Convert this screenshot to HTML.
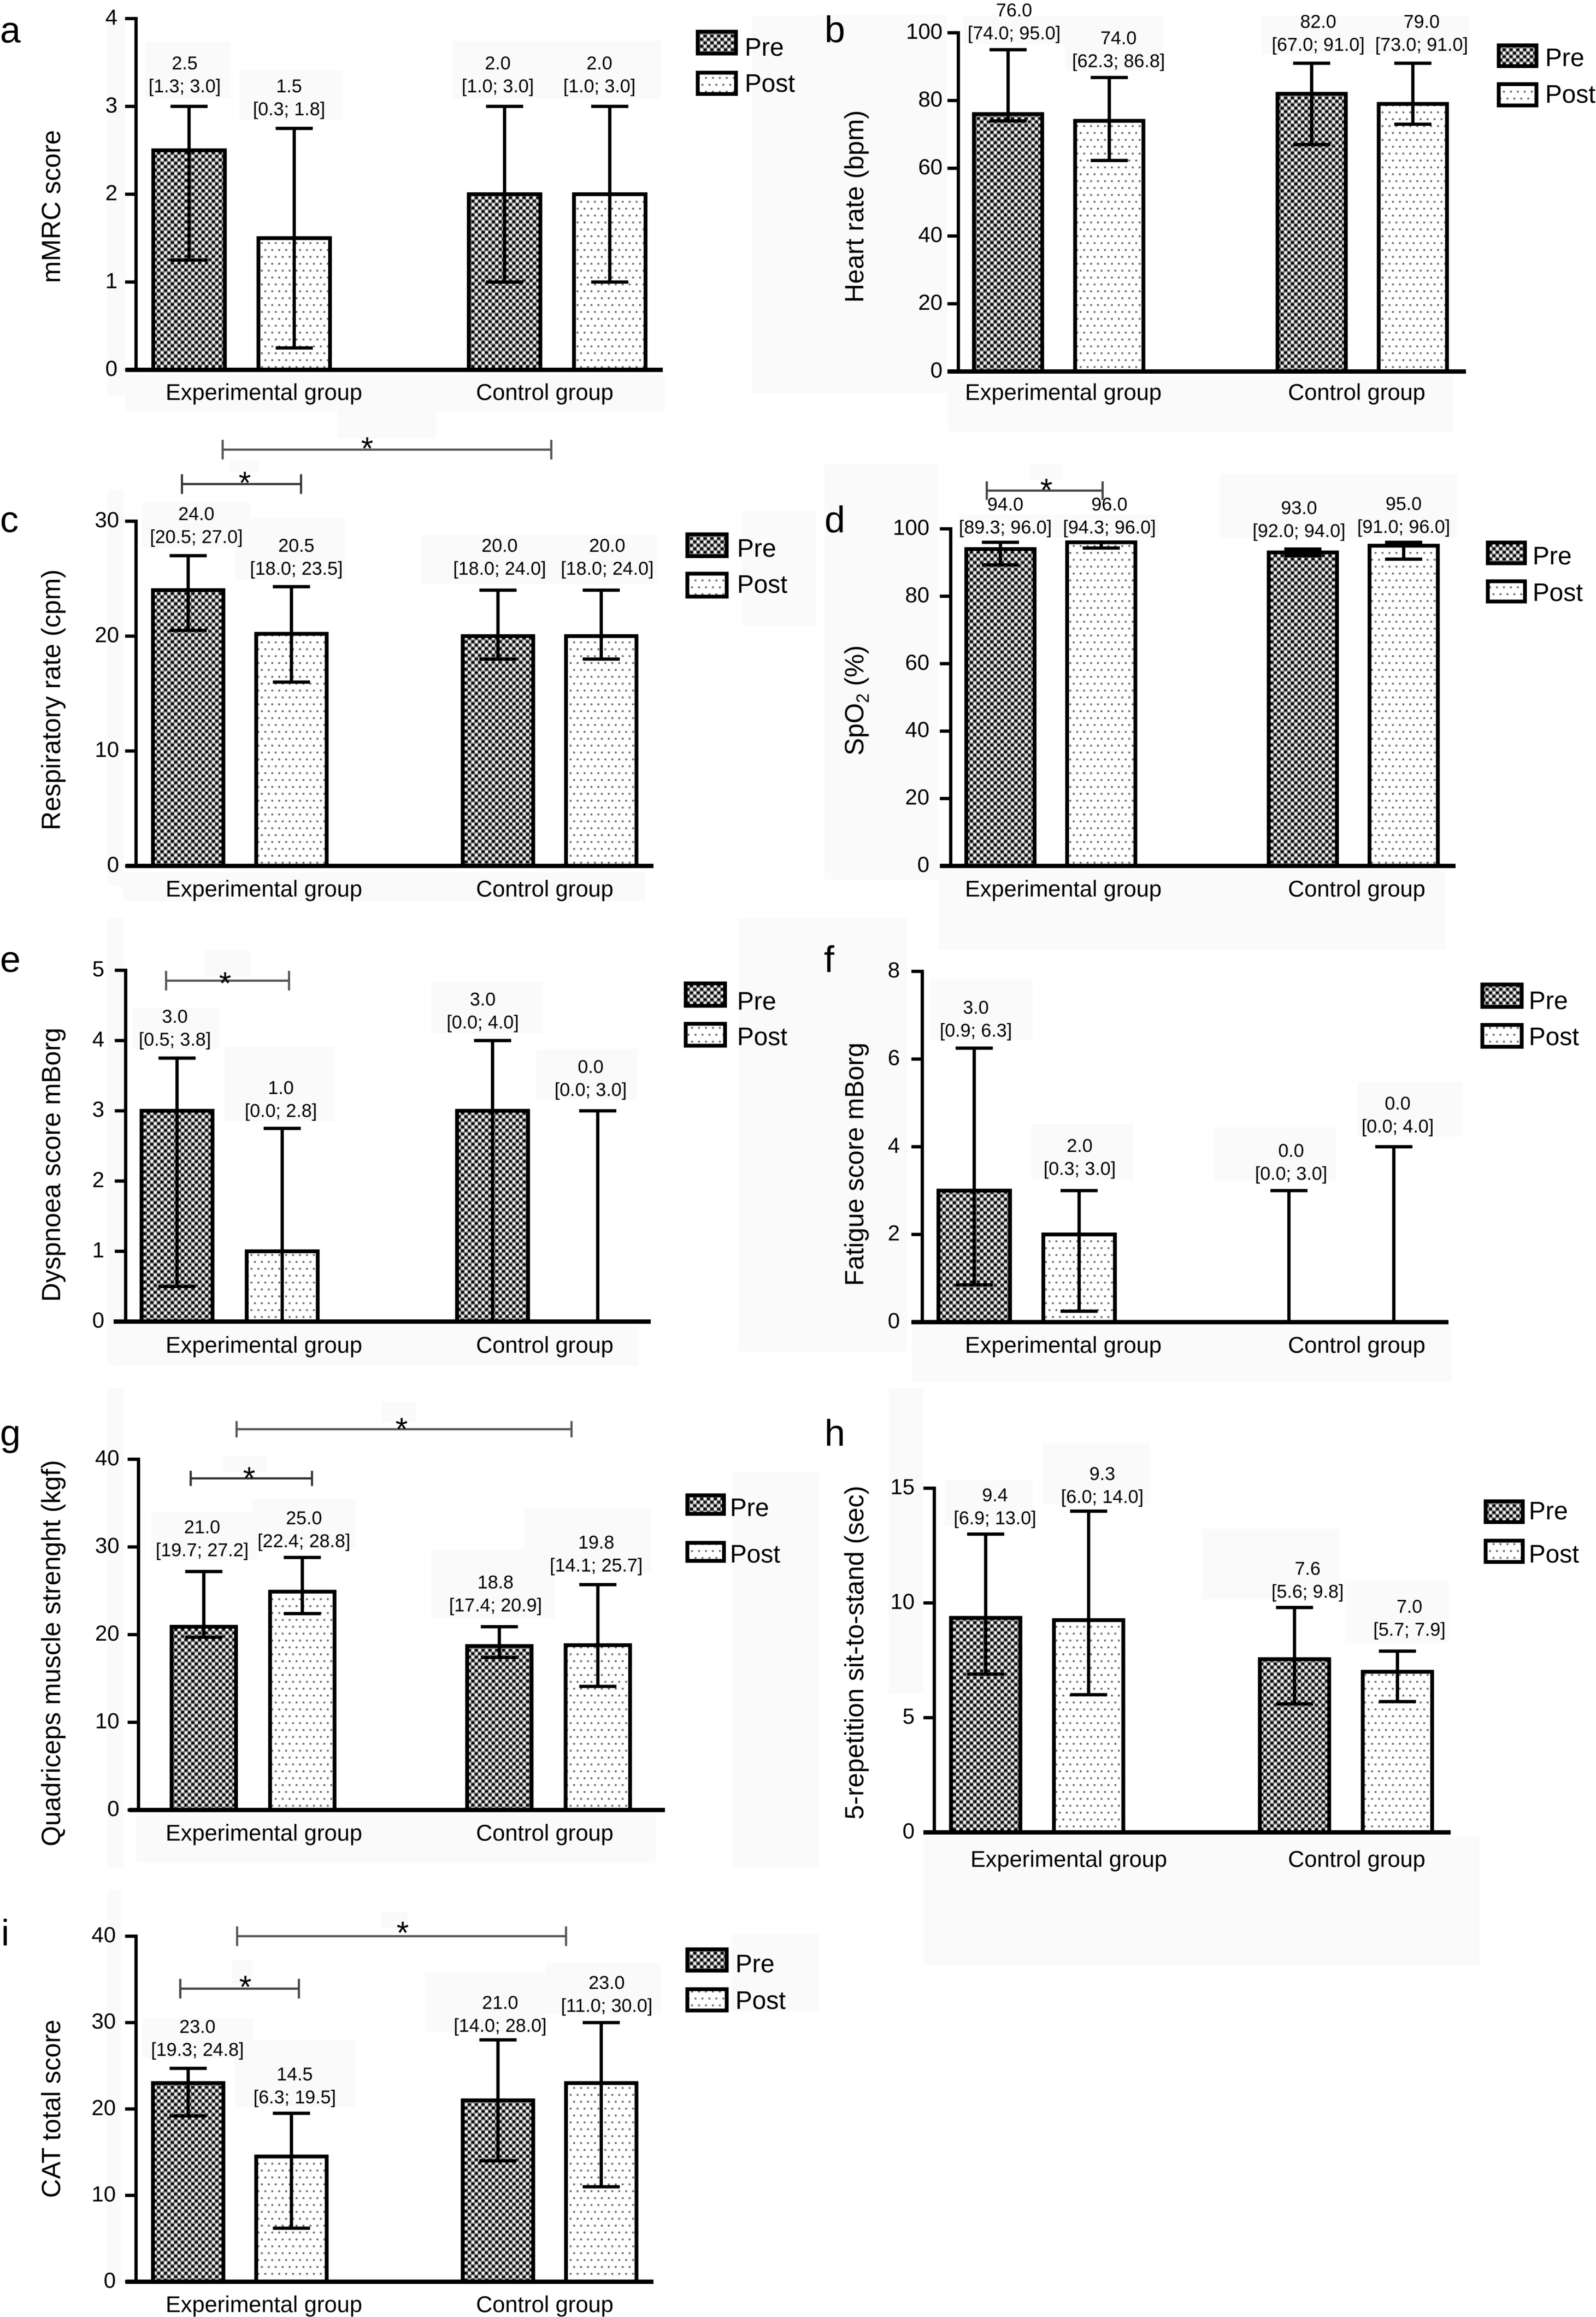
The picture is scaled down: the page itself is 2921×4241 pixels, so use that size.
<!DOCTYPE html>
<html lang="en">
<head>
<meta charset="utf-8">
<title>Pre and post outcomes by group</title>
<style>
html,body{margin:0;padding:0;background:#fff;}
svg{display:block;filter:blur(0.7px);}
text{font-family:"Liberation Sans",sans-serif;fill:#000;}
</style>
</head>
<body>
<svg id="figure" xmlns="http://www.w3.org/2000/svg" width="2921" height="4241" viewBox="0 0 2921 4241">
  <defs>
    <pattern id="pre-fill" patternUnits="userSpaceOnUse" width="12.5" height="12.6">
      <rect width="12.5" height="12.6" fill="#808080"/>
      <rect x="0.2" y="0.8" width="5.4" height="4" fill="#000"/>
      <rect x="6.9" y="0.6" width="4.8" height="4.4" fill="#fff"/>
      <rect x="6.45" y="7.1" width="5.4" height="4" fill="#000"/>
      <rect x="0.6" y="6.9" width="4.8" height="4.4" fill="#fff"/>
    </pattern>
    <pattern id="post-fill" patternUnits="userSpaceOnUse" width="12.7" height="25.2">
      <rect width="12.7" height="25.2" fill="#fff"/>
      <circle cx="3" cy="4" r="1.9" fill="#666"/>
      <circle cx="9.35" cy="16.6" r="1.9" fill="#666"/>
    </pattern>
  </defs>
  <rect width="2921" height="4241" fill="#fff"/>
  <g id="patches"></g>
  <g id="charts"></g>
</svg>
<script>
/* Shared categories */
const groupNames = ['Experimental group', 'Control group'];
const seriesNames = ['Pre', 'Post'];
const barLabels = ['experimental-pre', 'experimental-post', 'control-pre', 'control-post'];

/* a: mMRC */
const aTicks = [0, 1, 2, 3, 4];
const aValues = [2.5, 1.5, 2.0, 2.0];
const aLower = [1.25, 0.25, 1.0, 1.0];
const aUpper = [3.0, 2.75, 3.0, 3.0];
const aMedianText = ['2.5', '1.5', '2.0', '2.0'];
const aRangeText = ['[1.3; 3.0]', '[0.3; 1.8]', '[1.0; 3.0]', '[1.0; 3.0]'];

/* b: heart rate */
const bTicks = [0, 20, 40, 60, 80, 100];
const bValues = [76, 74, 82, 79];
const bLower = [74, 62.3, 67, 73];
const bUpper = [95, 86.8, 91, 91];
const bMedianText = ['76.0', '74.0', '82.0', '79.0'];
const bRangeText = ['[74.0; 95.0]', '[62.3; 86.8]', '[67.0; 91.0]', '[73.0; 91.0]'];

/* c: respiratory rate */
const cTicks = [0, 10, 20, 30];
const cValues = [24, 20.2, 20, 20];
const cLower = [20.5, 16, 18, 18];
const cUpper = [27, 24.3, 24, 24];
const cMedianText = ['24.0', '20.5', '20.0', '20.0'];
const cRangeText = ['[20.5; 27.0]', '[18.0; 23.5]', '[18.0; 24.0]', '[18.0; 24.0]'];

/* d: SpO2 */
const dTicks = [0, 20, 40, 60, 80, 100];
const dValues = [94, 96, 93, 95];
const dLower = [89.3, 94.3, 92, 91];
const dUpper = [96, 96, 94, 96];
const dMedianText = ['94.0', '96.0', '93.0', '95.0'];
const dRangeText = ['[89.3; 96.0]', '[94.3; 96.0]', '[92.0; 94.0]', '[91.0; 96.0]'];

/* e: dyspnoea */
const eTicks = [0, 1, 2, 3, 4, 5];
const eValues = [3, 1, 3, 0];
const eLower = [0.5, 0, 0, 0];
const eUpper = [3.75, 2.75, 4, 3];
const eMedianText = ['3.0', '1.0', '3.0', '0.0'];
const eRangeText = ['[0.5; 3.8]', '[0.0; 2.8]', '[0.0; 4.0]', '[0.0; 3.0]'];

/* f: fatigue */
const fTicks = [0, 2, 4, 6, 8];
const fValues = [3, 2, 0, 0];
const fLower = [0.85, 0.25, 0, 0];
const fUpper = [6.25, 3, 3, 4];
const fMedianText = ['3.0', '2.0', '0.0', '0.0'];
const fRangeText = ['[0.9; 6.3]', '[0.3; 3.0]', '[0.0; 3.0]', '[0.0; 4.0]'];

/* g: quadriceps */
const gTicks = [0, 10, 20, 30, 40];
const gValues = [20.9, 24.9, 18.7, 18.8];
const gLower = [19.7, 22.4, 17.4, 14.1];
const gUpper = [27.2, 28.8, 20.9, 25.7];
const gMedianText = ['21.0', '25.0', '18.8', '19.8'];
const gRangeText = ['[19.7; 27.2]', '[22.4; 28.8]', '[17.4; 20.9]', '[14.1; 25.7]'];

/* h: sit-to-stand */
const hTicks = [0, 5, 10, 15];
const hValues = [9.35, 9.25, 7.55, 7.0];
const hLower = [6.9, 6.0, 5.6, 5.7];
const hUpper = [13, 14, 9.8, 7.9];
const hMedianText = ['9.4', '9.3', '7.6', '7.0'];
const hRangeText = ['[6.9; 13.0]', '[6.0; 14.0]', '[5.6; 9.8]', '[5.7; 7.9]'];

/* i: CAT */
const iTicks = [0, 10, 20, 30, 40];
const iValues = [23, 14.5, 21, 23];
const iLower = [19.2, 6.2, 14, 11];
const iUpper = [24.7, 19.5, 28, 30];
const iMedianText = ['23.0', '14.5', '21.0', '23.0'];
const iRangeText = ['[19.3; 24.8]', '[6.3; 19.5]', '[14.0; 28.0]', '[11.0; 30.0]'];

const barSlots = [0, 1, 3, 4];

const panels = [
  {id:'a', letterX:0, letterY:78, axisX:249, y0:677, yTop:34, xStart:230, xEnd:1213, bar0:346, step:192.5, barW:131,
   title:['mMRC score'], titleX:110, titleY:378, catY:719, catX:[483,997], tickDx:34,
   sw:[1277,1347,58,98,133,172], legX:1363, legPre:86, legPost:152,
   ticks:aTicks, values:aValues, lower:aLower, upper:aUpper, med:aMedianText, rng:aRangeText,
   labelDx:[-8,-9.5,-12.5,-19], labelDy:[-38,-36,-38,-38], brackets:[]},
  {id:'b', letterX:1509, letterY:77, axisX:1754, y0:680, yTop:60, xStart:1734, xEnd:2683, bar0:1845, step:185.2, barW:125,
   title:['Heart rate (bpm)'], titleX:1580, titleY:378, catY:719, catX:[1946,2483], tickDx:29,
   sw:[2743,2812,83,121,154,193], legX:2828, legPre:105, legPost:172,
   ticks:bTicks, values:bValues, lower:bLower, upper:bUpper, med:bMedianText, rng:bRangeText,
   labelDx:[11,17,12,16], labelDy:[-31,-31,-35,-35], brackets:[]},
  {id:'c', letterX:0, letterY:974, axisX:249, y0:1585, yTop:954, xStart:230, xEnd:1196, bar0:344.4, step:189, barW:129,
   title:['Respiratory rate (cpm)'], titleX:110, titleY:1281, catY:1628, catX:[483,997], tickDx:31,
   sw:[1258,1330,978,1018,1050,1092], legX:1349, legPre:1003, legPost:1069,
   ticks:cTicks, values:cValues, lower:cLower, upper:cUpper, med:cMedianText, rng:cRangeText,
   labelDx:[15,9,3,11], labelDy:[-35,-34,-40,-40],
   brackets:[{x1:407.5,x2:1009,y:823,cap:18,sx:672,sy:807,c:'#555'},{x1:333,x2:551,y:886,cap:18,sx:448,sy:870,c:'#333'}]},
  {id:'d', letterX:1509, letterY:974, axisX:1740, y0:1585, yTop:968, xStart:1720, xEnd:2664, bar0:1831, step:184.5, barW:125,
   title:['SpO','2',' (%)'], titleX:1580, titleY:1282, catY:1628, catX:[1946,2483], tickDx:39,
   sw:[2723,2791,993,1031,1064,1101], legX:2805, legPre:1017, legPost:1084,
   ticks:dTicks, values:dValues, lower:dLower, upper:dUpper, med:dMedianText, rng:dRangeText,
   labelDx:[9,15,-7,0], labelDy:[-28,-28,-34,-29],
   brackets:[{x1:1806,x2:2018,y:898,cap:17,sx:1915,sy:883,c:'#444'}]},
  {id:'e', letterX:0, letterY:1779, axisX:230, y0:2419, yTop:1776, xStart:208, xEnd:1191, bar0:324, step:192.5, barW:130,
   title:['Dyspnoea score mBorg'], titleX:110, titleY:2132, catY:2463, catX:[483,997], tickDx:39,
   sw:[1255,1327,1800,1841,1874,1914], legX:1349, legPre:1832, legPost:1897,
   ticks:eTicks, values:eValues, lower:eLower, upper:eUpper, med:eMedianText, rng:eRangeText,
   labelDx:[-4,-2.5,-18,-13], labelDy:[-35,-33,-34,-39],
   brackets:[{x1:304,x2:529,y:1795,cap:18,sx:412,sy:1786,c:'#555'}]},
  {id:'f', letterX:1508, letterY:1779, axisX:1688, y0:2420, yTop:1778, xStart:1668, xEnd:2651, bar0:1783, step:192, barW:131,
   title:['Fatigue score mBorg'], titleX:1580, titleY:2131, catY:2463, catX:[1946,2483], tickDx:41,
   sw:[2713,2785,1802,1843,1876,1916], legX:2798, legPre:1831, legPost:1897,
   ticks:fTicks, values:fValues, lower:fLower, upper:fUpper, med:fMedianText, rng:fRangeText,
   labelDx:[3,1,4,7], labelDy:[-33,-41,-32,-38], brackets:[]},
  {id:'g', letterX:0, letterY:2646, axisX:253.5, y0:3313, yTop:2671, xStart:236, xEnd:1217, bar0:373, step:180.3, barW:118,
   title:['Quadriceps muscle strenght (kgf)'], titleX:110, titleY:3026, catY:3356, catX:[483,997], tickDx:35,
   sw:[1258,1325,2737,2771,2824,2857], legX:1336, legPre:2759, legPost:2844,
   ticks:gTicks, values:gValues, lower:gLower, upper:gUpper, med:gMedianText, rng:gRangeText,
   labelDx:[-3,3,-7,-3], labelDy:[-40,-31,-40,-36],
   brackets:[{x1:433,x2:1046,y:2616,cap:15,sx:735,sy:2602,c:'#555'},{x1:349,x2:571,y:2706,cap:14,sx:456,sy:2692,c:'#333'}]},
  {id:'h', letterX:1509, letterY:2646, axisX:1710, y0:3354, yTop:2724, xStart:1690, xEnd:2655, bar0:1804, step:188.4, barW:127,
   title:['5-repetition sit-to-stand (sec)'], titleX:1580, titleY:3025, catY:3404, catX:[1956,2483], tickDx:36,
   sw:[2719,2787,2748,2786,2820,2859], legX:2798, legPre:2765, legPost:2844,
   ticks:hTicks, values:hValues, lower:hLower, upper:hUpper, med:hMedianText, rng:hRangeText,
   labelDx:[17,25,24,22], labelDy:[-30,-27,-30,-40], brackets:[]},
  {id:'i', letterX:2, letterY:3561, axisX:249, y0:4176.5, yTop:3544, xStart:230, xEnd:1196, bar0:344.4, step:189, barW:129,
   title:['CAT total score'], titleX:110, titleY:3860, catY:4219, catX:[483,997], tickDx:37,
   sw:[1258,1330,3568,3607,3641,3680], legX:1346, legPre:3594, legPost:3661,
   ticks:iTicks, values:iValues, lower:iLower, upper:iUpper, med:iMedianText, rng:iRangeText,
   labelDx:[17,6,4,10], labelDy:[-35,-30,-27,-31.5],
   brackets:[{x1:434,x2:1036,y:3544,cap:18,sx:737,sy:3524,c:'#555'},{x1:330,x2:547,y:3640,cap:18,sx:449,sy:3623,c:'#444'}]}
];

/* Faint scan artefacts behind the figure: x1,y1,x2,y2 */
const backgroundPatches = [
 [265,76,421,181],[438,128,627,221],[827,75,1210,181],[230,686,1217,753],[196,28,230,725],[1376,28,1500,720],[617,753,799,803],
 [1763,28,2130,81],[1949,81,2130,130],[2309,28,2689,99],[1734,689,2660,790],[1500,26,1734,720],
 [260,919,459,1003],[430,947,633,1062],[770,978,1203,1070],[196,896,227,1622],[1358,934,1494,1146],[225,1597,1181,1650],[419,842,474,865],
 [1509,849,1717,1610],[1885,849,1944,880],[2232,866,2667,985],[1944,941,2121,984],[1754,941,1944,984],[1717,1592,2646,1700],
 [373,1739,459,1788],[242,1845,402,1921],[411,1916,612,2053],[789,1797,993,1892],[981,1920,1167,2012],[1351,1680,1500,2474],[206,2425,1169,2499],[196,1680,227,2500],
 [1717,1680,2646,1739],[1701,1793,1890,1904],[1887,2057,2075,2160],[2222,2063,2445,2161],[2483,1980,2676,2081],[1668,2425,2657,2530],[1500,1680,1661,2474],
 [698,2566,762,2603],[407,2665,488,2696],[277,2767,471,2857],[461,2743,652,2833],[789,2836,1016,2962],[959,2761,1192,2880],[249,3321,1200,3410],[196,2540,227,3418],[1340,2694,1500,3418],
 [1908,2642,2105,2754],[1729,2709,1890,2793],[2200,2798,2452,2927],[2462,2893,2653,3008],[1690,3361,2708,3597],[1627,2540,1690,3100],
 [196,3458,223,4180],[698,3499,746,3530],[424,3587,462,3631],[260,3694,464,3768],[429,3733,652,3856],[778,3610,1000,3721],[998,3593,1210,3687],[1339,3540,1500,3682]
];

const SVG_NS = 'http://www.w3.org/2000/svg';

function make(tag, attrs, parent, text) {
  const node = document.createElementNS(SVG_NS, tag);
  for (const key in attrs) node.setAttribute(key, attrs[key]);
  if (text !== undefined) node.textContent = text;
  parent.appendChild(node);
  return node;
}

function yScaleFor(p) {
  const vMax = p.ticks[p.ticks.length - 1];
  return function (v) { return p.y0 - (v / vMax) * (p.y0 - p.yTop); };
}

function xScaleFor(p) {
  return function (i) { return p.bar0 + barSlots[i] * p.step; };
}

const patchLayer = document.getElementById('patches');
backgroundPatches.forEach(function (r) {
  make('rect', {x:r[0], y:r[1], width:r[2]-r[0], height:r[3]-r[1], fill:'#fafafa'}, patchLayer);
});

const chartLayer = document.getElementById('charts');

panels.forEach(function (p) {
  const yScale = yScaleFor(p);
  const xScale = xScaleFor(p);

  const g = make('g', {}, chartLayer);
  
  

  const letter = make('text', {x:p.letterX, y:p.letterY, 'font-size':68}, g, p.id);
  
  

  /* y-axis title */
  const title = make('text', {x:0, y:0, 'font-size':48, 'text-anchor':'middle',
    transform:'translate(' + p.titleX + ' ' + p.titleY + ') rotate(-90)'}, g);
  
  
  if (p.title.length === 1) {
    title.textContent = p.title[0];
  } else {
    make('tspan', {}, title, p.title[0]);
    make('tspan', {dy:10, 'font-size':32}, title, p.title[1]);
    make('tspan', {dy:-10}, title, p.title[2]);
  }

  /* bars */
  p.values.forEach(function (v, i) {
    const bar = make('rect', {
      x: xScale(i) - p.barW / 2, y: yScale(v), width: p.barW, height: p.y0 - yScale(v),
      fill: i % 2 === 0 ? 'url(#pre-fill)' : 'url(#post-fill)', stroke:'#000', 'stroke-width':7
    }, g);
    
    
  });

  /* error bars */
  p.values.forEach(function (v, i) {
    const cx = xScale(i);
    const err = make('g', {stroke:'#000', 'stroke-width':6, fill:'none'}, g);
    
    
    make('line', {x1:cx, x2:cx, y1:yScale(p.upper[i]), y2:yScale(p.lower[i])}, err);
    make('line', {x1:cx-34, x2:cx+34, y1:yScale(p.upper[i]), y2:yScale(p.upper[i])}, err);
    make('line', {x1:cx-34, x2:cx+34, y1:yScale(p.lower[i]), y2:yScale(p.lower[i])}, err);
  });

  /* axes */
  const yAxis = make('g', {stroke:'#000', 'stroke-width':6}, g);
  
  
  make('line', {x1:p.axisX, x2:p.axisX, y1:yScale(p.ticks[p.ticks.length-1]) - 3, y2:p.y0}, yAxis);
  p.ticks.forEach(function (t) {
    make('line', {x1:p.axisX - 20, x2:p.axisX, y1:yScale(t), y2:yScale(t)}, yAxis);
  });
  p.ticks.forEach(function (t) {
    const tick = make('text', {x:p.axisX - p.tickDx, y:yScale(t) + 11, 'font-size':40, 'text-anchor':'end'}, g, String(t));
    
    
  });

  const xAxis = make('line', {x1:p.xStart, x2:p.xEnd, y1:p.y0, y2:p.y0, stroke:'#000', 'stroke-width':8}, g);
  
  

  groupNames.forEach(function (name, i) {
    const cat = make('text', {x:p.catX[i], y:p.catY + 13, 'font-size':41.5, 'text-anchor':'middle'}, g, name);
    
    
  });

  /* printed medians and ranges */
  p.values.forEach(function (v, i) {
    const cx = xScale(i) + p.labelDx[i];
    const lineTwo = yScale(p.upper[i]) + p.labelDy[i] + 12;
    const label = make('g', {'font-size':34, 'text-anchor':'middle'}, g);
    
    
    make('text', {x:cx, y:lineTwo - 42}, label, p.med[i]);
    make('text', {x:cx, y:lineTwo}, label, p.rng[i]);
  });

  /* significance brackets */
  p.brackets.forEach(function (b) {
    const br = make('g', {stroke:b.c, 'stroke-width':4, fill:'none'}, g);
    
    
    make('line', {x1:b.x1, x2:b.x2, y1:b.y, y2:b.y}, br);
    make('line', {x1:b.x1, x2:b.x1, y1:b.y - b.cap, y2:b.y + b.cap}, br);
    make('line', {x1:b.x2, x2:b.x2, y1:b.y - b.cap, y2:b.y + b.cap}, br);
    const star = make('text', {x:b.sx, y:b.sy + 34, 'font-size':58, 'text-anchor':'middle'}, g, '*');
    
    
  });

  /* legend */
  const legend = make('g', {}, g);
  
  
  seriesNames.forEach(function (name, i) {
    const top = p.sw[2 + i * 2];
    const bottom = p.sw[3 + i * 2];
    const swatch = make('rect', {x:p.sw[0], y:top, width:p.sw[1]-p.sw[0], height:bottom-top,
      fill: i === 0 ? 'url(#pre-fill)' : 'url(#post-fill)', stroke:'#000', 'stroke-width':7}, legend);
    
    
    const text = make('text', {x:p.legX, y:(i === 0 ? p.legPre : p.legPost) + 16, 'font-size':46}, legend, name);
    
    
  });
});
</script>
</body>
</html>
